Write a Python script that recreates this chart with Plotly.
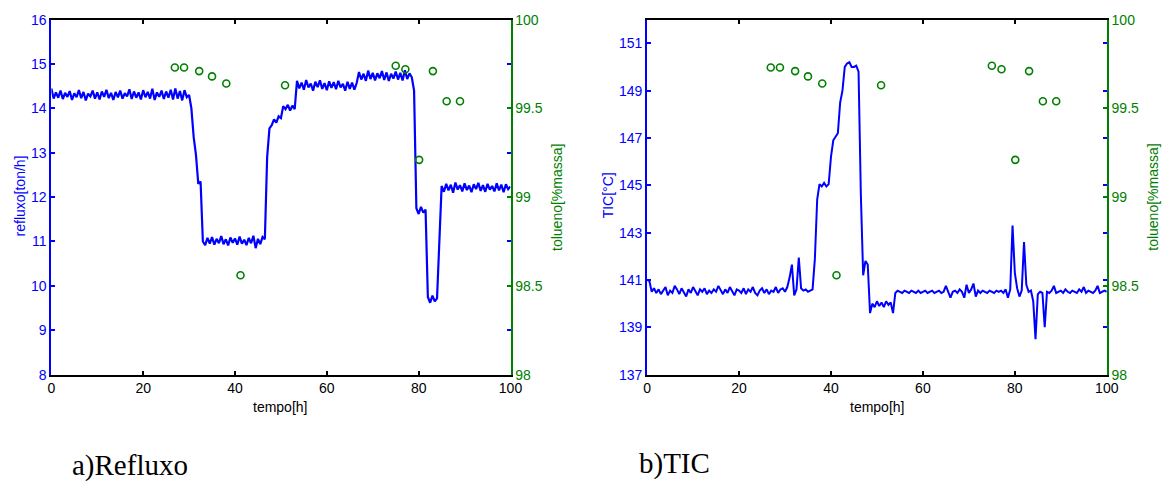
import numpy as np
import plotly.graph_objects as go

W, H = 1174, 490
STEP = 0.5  # hours between samples

# ---------------- data ----------------
# Refluxo [ton/h], sampled every 0.5 h from 0 to 100 h
refluxo = [
    14.45, 14.22, 14.36, 14.24, 14.40, 14.21, 14.35, 14.26, 14.39, 14.19,
    14.34, 14.25, 14.41, 14.23, 14.37, 14.18, 14.33, 14.27, 14.40, 14.22,
    14.36, 14.20, 14.38, 14.26, 14.42, 14.23, 14.35, 14.19, 14.37, 14.25,
    14.40, 14.22, 14.34, 14.27, 14.43, 14.21, 14.38, 14.24, 14.36, 14.20,
    14.41, 14.25, 14.37, 14.22, 14.44, 14.19, 14.36, 14.26, 14.40, 14.21,
    14.38, 14.24, 14.42, 14.20, 14.45, 14.22, 14.39, 14.18, 14.41, 14.25,
    14.30, 14.00, 13.35, 12.95, 12.30, 12.35, 11.00,
    10.92, 11.08, 10.95, 11.10, 10.93, 11.06, 10.96, 11.12, 10.94, 11.05,
    10.91, 11.09, 10.97, 11.07, 10.93, 11.11, 10.95, 11.04, 10.92, 11.08,
    10.96, 11.13, 10.85, 11.06, 10.94, 11.10,
    11.05, 12.90, 13.55, 13.62, 13.75, 13.68, 13.82, 13.78, 14.05, 13.98,
    14.08, 13.95, 14.06, 13.98,
    14.62, 14.45, 14.58, 14.42, 14.64, 14.47, 14.56, 14.40, 14.60, 14.48,
    14.63, 14.44, 14.57, 14.41, 14.61, 14.46, 14.59, 14.43, 14.62, 14.47,
    14.55, 14.40, 14.60, 14.44, 14.58, 14.42, 14.57,
    14.82, 14.65, 14.78, 14.62, 14.85, 14.66, 14.80, 14.63, 14.79, 14.68,
    14.84, 14.64, 14.81, 14.62, 14.78, 14.67, 14.83, 14.65, 14.80, 14.63,
    14.86, 14.66, 14.79, 14.70,
    14.40,
    11.75, 11.62, 11.78, 11.65, 11.72,
    9.75, 9.62, 9.78, 9.65, 9.72,
    11.10,
    12.25, 12.12, 12.30, 12.15, 12.28, 12.10, 12.33, 12.17, 12.27, 12.13,
    12.31, 12.16, 12.26, 12.11, 12.29, 12.18, 12.32, 12.14, 12.27, 12.12,
    12.30, 12.17, 12.25, 12.13, 12.31, 12.15, 12.28, 12.11, 12.29, 12.18,
    12.24,
]

# TIC [°C], sampled every 0.5 h from 0 to 100 h
tic = [
    141.00, 140.95,
    140.50, 140.65, 140.45, 140.60, 140.40, 140.55, 140.70, 140.35, 140.55, 140.45,
    140.75, 140.60, 140.40, 140.65, 140.50, 140.30, 140.60, 140.45, 140.70, 140.55,
    140.35, 140.60, 140.50, 140.65, 140.40, 140.55, 140.45, 140.60, 140.50, 140.75,
    140.55, 140.40, 140.60, 140.45, 140.70, 140.50, 140.35, 140.60, 140.55, 140.45,
    140.65, 140.40, 140.60, 140.50, 140.70, 140.45, 140.35, 140.55, 140.65, 140.45,
    140.60, 140.40, 140.55, 140.50, 140.70, 140.45, 140.60, 140.65, 140.50,
    140.70, 141.10, 141.65, 140.35, 140.60, 141.95, 140.65, 140.55, 140.60, 140.50,
    140.55, 140.60, 141.90, 144.40, 145.05, 144.95, 145.10, 144.95, 145.05, 146.20,
    146.90, 147.05, 147.20, 148.50, 149.00, 150.00, 150.15, 150.20, 150.00, 150.00,
    150.05, 149.80, 144.60, 141.20, 141.80, 141.65, 139.60, 140.00, 139.85, 140.10,
    139.90, 140.05, 139.85, 140.10, 139.95, 140.05, 139.60,
    140.45, 140.55, 140.50, 140.45, 140.55, 140.50, 140.45, 140.55, 140.50, 140.45,
    140.55, 140.45, 140.50, 140.55, 140.45, 140.50, 140.55, 140.45, 140.50, 140.55,
    140.45, 140.50, 140.75, 140.45, 140.25, 140.50, 140.55, 140.45, 140.60, 140.50,
    140.25, 140.80, 140.45, 140.60, 140.85, 140.30, 140.55, 140.45, 140.55, 140.50,
    140.45, 140.55, 140.50, 140.45, 140.55, 140.50, 140.55, 140.45, 140.60, 140.25,
    140.60, 143.30, 141.30, 140.65, 140.30, 140.55, 142.60, 140.80, 140.50, 140.55,
    140.10, 138.50, 140.40, 140.50, 140.45, 139.00, 140.50,
    140.45, 140.55, 140.75, 140.45, 140.50, 140.55, 140.45, 140.60, 140.50, 140.45,
    140.55, 140.50, 140.45, 140.60, 140.50, 140.70, 140.45, 140.55, 140.50, 140.45,
    140.55, 140.75, 140.45, 140.50, 140.55, 140.50,
]

# Toluene purity samples [% massa]
t_tol = [26.9, 28.9, 32.2, 35.0, 38.1, 41.2, 50.9, 75.0, 77.1, 80.1, 83.1, 86.1, 89.0]
tolueno = [99.73, 99.73, 99.71, 99.68, 99.64, 98.56, 99.63, 99.74, 99.72, 99.21,
           99.71, 99.54, 99.54]

x_ticks = [0, 20, 40, 60, 80, 100]
ref_ticks = [8, 9, 10, 11, 12, 13, 14, 15, 16]
tic_ticks = [137, 139, 141, 143, 145, 147, 149, 151]
tol_ticks = [98, 98.5, 99, 99.5, 100]

captions = ["a)Refluxo", "b)TIC"]

# ---------------- figure ----------------
BLUE = "#0000ff"
GREEN = "#008000"
SANS = "Liberation Sans, Arial, Helvetica, sans-serif"
SERIF = "Liberation Serif, Times New Roman, serif"

t_ref = np.arange(len(refluxo)) * STEP
t_tic = np.arange(len(tic)) * STEP

fig = go.Figure()
fig.add_trace(go.Scatter(x=t_ref, y=refluxo, mode="lines",
                         line=dict(color=BLUE, width=2.2), xaxis="x", yaxis="y"))
fig.add_trace(go.Scatter(x=t_tol, y=tolueno, mode="markers",
                         marker=dict(symbol="circle-open", size=7, color=GREEN,
                                     line=dict(width=1.6, color=GREEN)),
                         xaxis="x", yaxis="y2"))
fig.add_trace(go.Scatter(x=t_tic, y=tic, mode="lines",
                         line=dict(color=BLUE, width=2), xaxis="x2", yaxis="y3"))
fig.add_trace(go.Scatter(x=t_tol, y=tolueno, mode="markers",
                         marker=dict(symbol="circle-open", size=7, color=GREEN,
                                     line=dict(width=1.6, color=GREEN)),
                         xaxis="x2", yaxis="y4"))

ydom = [1 - 379 / H, 1 - 12 / H]


def xax(dom, anchor):
    return dict(domain=dom, anchor=anchor, range=[0, 100], tickvals=x_ticks,
                ticks="inside", ticklen=4, tickwidth=2, tickcolor="black",
                linecolor="black", linewidth=2, mirror="ticks",
                showgrid=False, zeroline=False,
                tickfont=dict(family=SANS, size=14, color="black"))


def yleft(rng, tv, anchor):
    return dict(domain=ydom, anchor=anchor, range=rng, tickvals=tv,
                ticks="inside", ticklen=4, tickwidth=2, tickcolor=BLUE,
                linecolor=BLUE, linewidth=2, mirror="ticks",
                showgrid=False, zeroline=False,
                tickfont=dict(family=SANS, size=14, color=BLUE))


def yright(over, anchor):
    return dict(overlaying=over, side="right", anchor=anchor, range=[98, 100],
                tickvals=tol_ticks, ticks="inside", ticklen=4, tickwidth=2,
                tickcolor=GREEN, linecolor=GREEN, linewidth=2,
                showgrid=False, zeroline=False,
                tickfont=dict(family=SANS, size=14, color=GREEN))


fig.update_layout(
    width=W, height=H, margin=dict(l=0, r=0, t=0, b=0),
    paper_bgcolor="white", plot_bgcolor="white", showlegend=False,
    xaxis=xax([48 / W, 513.5 / W], "y"),
    yaxis=yleft([8, 16], ref_ticks, "x"),
    yaxis2=yright("y", "x"),
    xaxis2=xax([652 / W, 1118 / W], "y3"),
    yaxis3=yleft([137, 152], tic_ticks, "x2"),
    yaxis4=yright("y3", "x2"),
)


def ann(text, x, y, color, size=14, angle=0, family=SANS):
    return dict(text=text, x=x / W, y=1 - y / H, xref="paper", yref="paper",
                showarrow=False, textangle=angle, xanchor="center", yanchor="middle",
                font=dict(family=family, size=size, color=color))


fig.update_layout(annotations=[
    ann("refluxo[ton/h]", 16, 194, BLUE, angle=-90),
    ann("tolueno[%massa]", 560, 196, GREEN, angle=-90),
    ann("tempo[h]", 280, 412, "black"),
    ann("TIC[°C]", 612, 194, BLUE, angle=-90),
    ann("tolueno[%massa]", 1164, 196, GREEN, angle=-90),
    ann("tempo[h]", 885, 412, "black"),
    ann(captions[0], 128, 473, "black", size=29, family=SERIF),
    ann(captions[1], 680, 471, "black", size=29, family=SERIF),
])

fig.write_html("out.html")
